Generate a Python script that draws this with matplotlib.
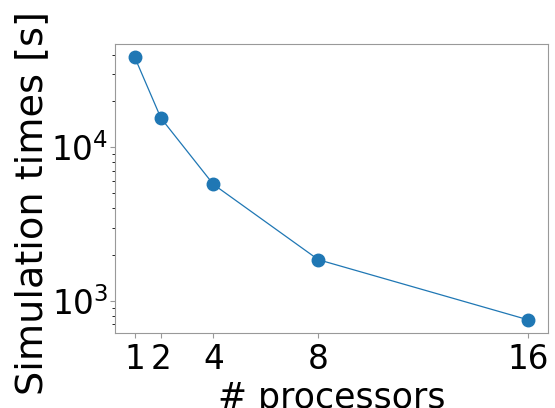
import matplotlib
matplotlib.use('Agg')
import matplotlib.pyplot as plt

# number of processors and simulation times
processors = [1, 2, 4, 8, 16]
sim_times = [38700, 15500, 5730, 1850, 750]

fig = plt.figure(figsize=(5.55, 4.08), dpi=100)
ax = fig.add_axes([115 / 555, 75 / 408, 433 / 555, 289 / 408])
ax.plot(processors, sim_times, marker='o', markersize=9, linewidth=0.9, color='#1f77b4')
ax.set_yscale('log')
ax.set_xticks(processors)
ax.set_xlabel('# processors', fontsize=25)
ax.set_ylabel('Simulation times [s]', fontsize=27.5)
ax.yaxis.set_label_coords(-0.15, 0.45)
for s in ax.spines.values():
    s.set_edgecolor('0.6')
ax.tick_params(colors='0.6', labelcolor='black', labelsize=23.5)
ax.tick_params(axis='y', which='major', pad=1.5)

fig.savefig('out.png', dpi=100)
